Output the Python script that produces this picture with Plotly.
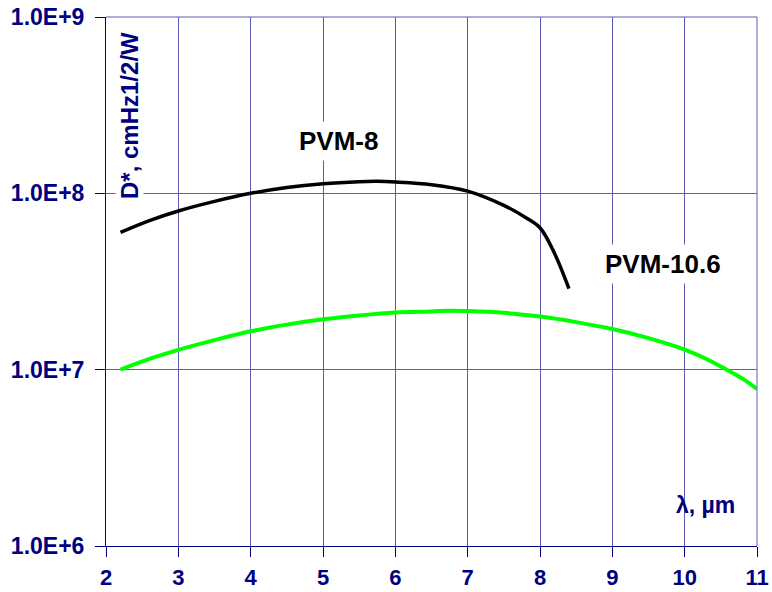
import plotly.graph_objects as go

# PVM-8 (black)
pvm8_x = [2.2, 2.6, 3.0, 3.5, 4.0, 4.5, 5.0, 5.5, 5.75, 6.0, 6.5, 7.0, 7.5, 7.8, 8.0, 8.2, 8.4]
pvm8_y = [6.0e7, 7.0e7, 7.94e7, 9.0e7, 1.0e8, 1.08e8, 1.135e8, 1.165e8, 1.17e8, 1.16e8, 1.12e8, 1.03e8, 8.55e7, 7.3e7, 6.38e7, 4.57e7, 2.88e7]

# PVM-10.6 (green)
pvm106_x = [2.2, 2.6, 3.0, 3.5, 4.0, 4.5, 5.0, 5.5, 6.0, 6.5, 6.75, 7.0, 7.5, 8.0, 8.5, 9.0, 9.5, 10.0, 10.3, 10.6, 10.8, 11.0]
pvm106_y = [1.0e7, 1.15e7, 1.295e7, 1.47e7, 1.65e7, 1.8e7, 1.93e7, 2.03e7, 2.11e7, 2.14e7, 2.16e7, 2.15e7, 2.1e7, 2.0e7, 1.86e7, 1.70e7, 1.51e7, 1.30e7, 1.15e7, 9.9e6, 8.9e6, 7.77e6]

y_tickvals = [1e6, 1e7, 1e8, 1e9]
y_ticktext = ["1.0E+6", "1.0E+7", "1.0E+8", "1.0E+9"]
x_tickvals = [2, 3, 4, 5, 6, 7, 8, 9, 10, 11]

NAVY = "#000080"
GRID = "#5C5CB0"
FONT = "Arial, Liberation Sans, sans-serif"

fig = go.Figure()
fig.add_trace(go.Scatter(x=pvm8_x, y=pvm8_y, mode="lines", line=dict(color="black", width=3.5, shape="spline"),
                         name="PVM-8", showlegend=False))
fig.add_trace(go.Scatter(x=pvm106_x, y=pvm106_y, mode="lines", line=dict(color="#00FF00", width=4, shape="spline"),
                         name="PVM-10.6", showlegend=False))

fig.update_layout(
    width=772, height=592,
    margin=dict(l=106, r=15, t=17, b=46, autoexpand=False),
    paper_bgcolor="white", plot_bgcolor="white",
    font=dict(family=FONT, color=NAVY),
)
fig.update_xaxes(
    range=[2, 11], tickvals=x_tickvals, automargin=False,
    showgrid=True, gridcolor=GRID, gridwidth=1,
    showline=True, linecolor=NAVY, linewidth=1,
    ticks="outside", ticklen=10, tickcolor=NAVY,
    tickfont=dict(family=FONT, size=22, color=NAVY, weight="bold"),
    ticklabelstandoff=2, zeroline=False,
)
fig.update_yaxes(
    type="log", range=[6, 9], tickvals=y_tickvals, ticktext=y_ticktext, automargin=False,
    showgrid=True, gridcolor=GRID, gridwidth=1,
    showline=True, linecolor=NAVY, linewidth=1,
    ticks="outside", ticklen=10, tickcolor=NAVY,
    tickfont=dict(family=FONT, size=23, color=NAVY, weight="bold"),
    ticklabelstandoff=6, zeroline=False,
)

# right and top border (grid colour)
fig.add_shape(type="line", xref="paper", yref="paper", x0=1, x1=1, y0=0, y1=1, line=dict(color=GRID, width=1))
fig.add_shape(type="line", xref="paper", yref="paper", x0=0, x1=1, y0=1, y1=1, line=dict(color=GRID, width=1))

fig.add_annotation(xref="paper", yref="paper", x=(129 - 106) / 651, y=1 - (116 - 17) / 529,
                   xanchor="center", yanchor="middle", text="<b>D*, cmHz1/2/W</b>", textangle=-90,
                   showarrow=False, font=dict(family=FONT, size=24, color=NAVY), bgcolor="white", borderpad=0)
fig.add_annotation(xref="paper", yref="paper", x=(705 - 106) / 651, y=1 - (505 - 17) / 529,
                   xanchor="center", yanchor="middle", text="<b>λ, µm</b>",
                   showarrow=False, font=dict(family=FONT, size=23, color=NAVY))
fig.add_annotation(xref="paper", yref="paper", x=(338 - 106) / 651, y=1 - (141 - 17) / 529,
                   xanchor="center", yanchor="middle", text="<b>PVM-8</b>",
                   showarrow=False, font=dict(family=FONT, size=26, color="black"), bgcolor="white", borderpad=4)
fig.add_annotation(xref="paper", yref="paper", x=(663 - 106) / 651, y=1 - (264 - 17) / 529,
                   xanchor="center", yanchor="middle", text="<b>PVM-10.6</b>",
                   showarrow=False, font=dict(family=FONT, size=26, color="black"), bgcolor="white", borderpad=4)

fig.write_html("out.html")
